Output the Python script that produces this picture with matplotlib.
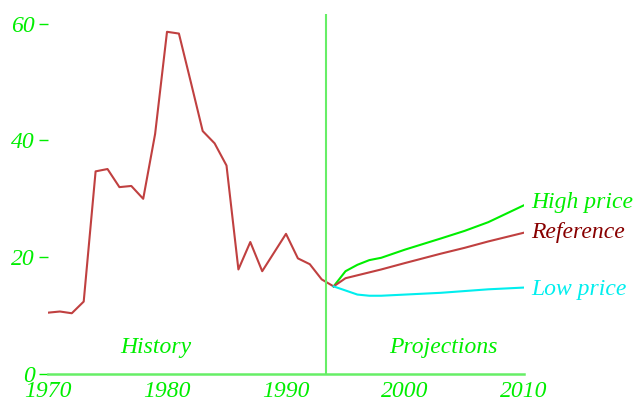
import matplotlib
matplotlib.use('Agg')
import matplotlib.pyplot as plt

# history 1970-1994
hist_years = list(range(1970, 1995))
hist_price = [10.5, 10.7, 10.4, 12.4, 34.7, 35.1, 32.0, 32.2, 30.0, 41.1,
              58.6, 58.3, 50.0, 41.6, 39.5, 35.7, 17.9, 22.6, 17.6, 20.8,
              24.0, 19.8, 18.8, 16.2, 15.0]

# projections 1994-2010
proj_years = [1994, 1995, 1996, 1997, 1998, 2000, 2003, 2005, 2007, 2010]
reference = [15.0, 16.4, 16.9, 17.4, 17.9, 19.0, 20.6, 21.6, 22.7, 24.2]
high_price = [15.0, 17.6, 18.7, 19.5, 19.9, 21.3, 23.2, 24.5, 26.0, 28.9]
low_price = [15.0, 14.3, 13.6, 13.4, 13.4, 13.6, 13.9, 14.2, 14.5, 14.8]

xticks = [1970, 1980, 1990, 2000, 2010]
yticks = [0, 20, 40, 60]

green = '#00ee00'
font = dict(family='Liberation Serif', style='italic', size=17)

fig = plt.figure(figsize=(6.35, 4.03), dpi=100)
ax = fig.add_axes([0.0756, 0.072, 0.7496, 0.894])

ax.plot(hist_years, hist_price, color='#c04040', lw=1.5)
ax.plot(proj_years, high_price, color='#00ee00', lw=1.5)
ax.plot(proj_years, reference, color='#c04040', lw=1.5)
ax.plot(proj_years, low_price, color='#00eeee', lw=1.5)
ax.axvline(1993.4, color='#66ee66', lw=1.5)

ax.set_xlim(1970, 2010)
ax.set_ylim(0, 61.7)
ax.set_xticks(xticks)
ax.set_yticks(yticks)
ax.set_xticklabels([str(x) for x in xticks], color=green, **font)
ax.set_yticklabels([str(y) for y in yticks], color=green, **font)
ax.tick_params(axis='x', length=0, pad=5)
ax.tick_params(axis='y', length=6.5, width=1, color=green, pad=3)

for s in ['top', 'right', 'left']:
    ax.spines[s].set_visible(False)
ax.spines['bottom'].set_color('#66ee66')
ax.spines['bottom'].set_linewidth(1.8)

ax.text(1979.1, 4.6, 'History', color=green, ha='center', va='center', **font)
ax.text(2003.2, 4.6, 'Projections', color=green, ha='center', va='center', **font)
ax.text(2010.6, 29.3, 'High price', color='#00ee00', ha='left', va='center', clip_on=False, **font)
ax.text(2010.6, 24.3, 'Reference', color='#880000', ha='left', va='center', clip_on=False, **font)
ax.text(2010.6, 14.5, 'Low price', color='#00eeee', ha='left', va='center', clip_on=False, **font)

fig.savefig('out.png', dpi=100)
